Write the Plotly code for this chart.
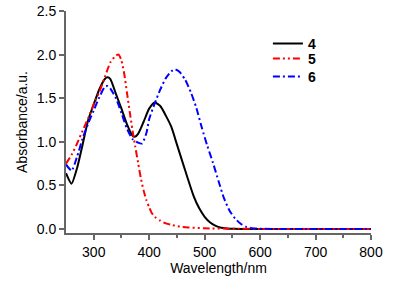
import plotly.graph_objects as go

# Series 4 (black, solid)
wl_4 = [250, 260, 270, 280, 290, 300, 310, 320, 325, 330, 340, 350, 360, 370, 375, 380, 390, 400, 410,
        420, 430, 440, 450, 460, 470, 480, 490, 500, 510, 520, 530, 540, 550, 560, 600, 700, 800]
abs_4 = [0.64, 0.52, 0.70, 0.97, 1.25, 1.43, 1.60, 1.72, 1.74, 1.72, 1.55, 1.38, 1.20, 1.07, 1.06, 1.09,
         1.23, 1.38, 1.45, 1.41, 1.30, 1.17, 0.97, 0.77, 0.57, 0.38, 0.24, 0.14, 0.075, 0.035, 0.015,
         0.007, 0.003, 0.001, 0.0, 0.0, 0.0]

# Series 5 (red, dash-dot-dot)
wl_5 = [250, 260, 270, 280, 290, 300, 310, 320, 330, 340, 345, 350, 355, 360, 365, 370, 375, 380,
        385, 390, 395, 400, 405, 410, 420, 430, 440, 455, 470, 500, 550, 600, 700, 800]
abs_5 = [0.75, 0.85, 0.98, 1.13, 1.27, 1.43, 1.57, 1.74, 1.91, 1.99, 2.0, 1.93, 1.78, 1.56, 1.34, 1.13,
         0.94, 0.76, 0.58, 0.44, 0.33, 0.25, 0.18, 0.14, 0.095, 0.065, 0.047, 0.028, 0.018, 0.008,
         0.003, 0.001, 0.0, 0.0]

# Series 6 (blue, dash-dot)
wl_6 = [250, 260, 270, 280, 290, 300, 310, 320, 325, 330, 340, 350, 360, 370, 380, 387, 395, 400,
        410, 420, 430, 440, 447, 455, 465, 475, 485, 495, 505, 515, 525, 535, 545, 555, 565, 575,
        585, 600, 700, 800]
abs_6 = [0.74, 0.67, 0.83, 1.04, 1.21, 1.36, 1.51, 1.63, 1.64, 1.61, 1.50, 1.33, 1.15, 1.03, 0.99,
         0.98, 1.10, 1.26, 1.44, 1.60, 1.73, 1.81, 1.83, 1.80, 1.71, 1.57, 1.39, 1.16, 0.95, 0.76,
         0.55, 0.35, 0.21, 0.12, 0.06, 0.025, 0.01, 0.003, 0.0, 0.0]

series_names = ["4", "5", "6"]
x_ticks = [300, 400, 500, 600, 700, 800]
x_minor = [350, 450, 550, 650, 750]
y_ticks = [0.0, 0.5, 1.0, 1.5, 2.0, 2.5]
y_ticktext = ["0.0", "0.5", "1.0", "1.5", "2.0", "2.5"]

FONT = "Liberation Sans, Arial, sans-serif"
AXIS_COLOR = "#666666"

fig = go.Figure()
fig.add_trace(go.Scatter(x=wl_4, y=abs_4, mode="lines", name=series_names[0], legend="legend",
                         line=dict(color="#000000", width=2, shape="spline", smoothing=0.6)))
fig.add_trace(go.Scatter(x=wl_5, y=abs_5, mode="lines", name=series_names[1], legend="legend2",
                         line=dict(color="#ff0000", width=2, shape="spline", smoothing=0.6,
                                   dash="7px,3px,2px,3px,2px,3px")))
fig.add_trace(go.Scatter(x=wl_6, y=abs_6, mode="lines", name=series_names[2], legend="legend3",
                         line=dict(color="#0000ff", width=2, shape="spline", smoothing=0.6,
                                   dash="7px,3px,2px,3px")))

leg_common = dict(x=0.662, xanchor="left", yanchor="middle",
                  bgcolor="rgba(0,0,0,0)", borderwidth=0,
                  font=dict(family=FONT, size=14, color="black", weight="bold"),
                  itemwidth=30)

fig.update_layout(
    width=416, height=286,
    margin=dict(l=66, r=45, t=11, b=53),
    paper_bgcolor="white", plot_bgcolor="white",
    font=dict(family=FONT, size=14, color="black"),
    showlegend=True,
    legend=dict(y=0.852, **leg_common),
    legend2=dict(y=0.784, **leg_common),
    legend3=dict(y=0.703, **leg_common),
    xaxis=dict(range=[250, 800], tickmode="array", tickvals=x_ticks, automargin=False,
               ticks="outside", ticklen=5, tickwidth=1.5, tickcolor=AXIS_COLOR,
               showline=True, linecolor=AXIS_COLOR, linewidth=2, showgrid=False, zeroline=False,
               minor=dict(tickmode="array", tickvals=x_minor,
                          ticks="outside", ticklen=3, tickwidth=1.5, tickcolor=AXIS_COLOR),
               title=dict(text="Wavelength/nm", font=dict(size=14), standoff=4),
               tickfont=dict(size=14)),
    yaxis=dict(range=[-0.046, 2.5], tickmode="array", tickvals=y_ticks, ticktext=y_ticktext,
               automargin=False,
               ticks="outside", ticklen=5, tickwidth=1.5, tickcolor=AXIS_COLOR,
               showline=True, linecolor=AXIS_COLOR, linewidth=2, showgrid=False, zeroline=False,
               title=dict(text="Absorbance/a.u.", font=dict(size=14), standoff=6),
               tickfont=dict(size=14)),
)

fig.write_html("out.html", config={"displayModeBar": False},
               post_script="document.body.style.margin='0';")
